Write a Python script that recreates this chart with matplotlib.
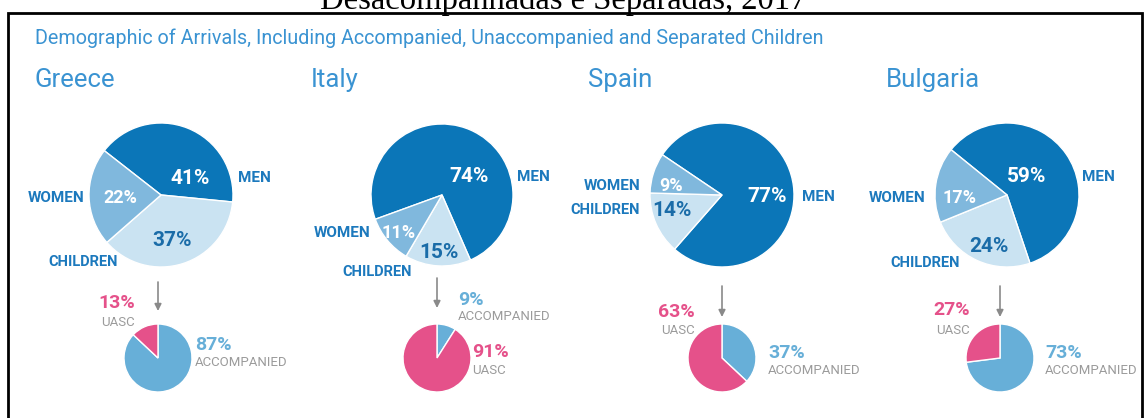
import matplotlib.pyplot as plt
from matplotlib import font_manager

# ===============================
# DATA
# ===============================
countries = ["Greece", "Italy", "Spain", "Bulgaria"]
men = [41, 74, 77, 59]
children = [37, 15, 14, 24]
women = [22, 11, 9, 17]
accompanied = [87, 9, 37, 73]
uasc = [13, 91, 63, 27]

subtitle = "Demographic of Arrivals, Including Accompanied, Unaccompanied and Separated Children"
page_title = "Desacompanhadas e Separadas, 2017"

# ===============================
# STYLE / LAYOUT (pixel coords, y from top)
# ===============================
W, H = 1148, 418
C_MEN, C_WOMEN, C_CHILD = "#0b76b8", "#80b8dd", "#cae3f2"
C_LABEL, C_CHILD_PCT = "#1c79bd", "#1a6ca8"
C_HEAD = "#3a93d2"
C_PINK, C_ACC = "#e5518a", "#67afd8"
C_GRAY = "#9b9b9b"

names = [f.name for f in font_manager.fontManager.ttflist]
NARROW = ["Liberation Sans Narrow"] if "Liberation Sans Narrow" in names else ["Roboto", "DejaVu Sans"]
HEADF = ["Roboto", "DejaVu Sans"]

country_x = [35, 311, 588, 886]
big_center = [(161, 195), (442, 195), (722, 195), (1007, 195)]
big_r = [72, 71, 72, 72]
big_start = [142, 200, 146, 141]
small_center = [(158, 358), (437, 358), (722, 358), (1000, 358)]
small_r = 34
arrow_y = [(282, 311), (278, 308), (286, 317), (286, 317)]

# label anchors: (x, y, ha)
men_pct = [(190, 178), (469, 177), (767, 197), (1027, 177)]
men_lab = [(238, 178), (517, 177), (802, 197), (1082, 177)]
wom_pct = [(120, 198), (399, 233), (671, 186), (959, 198)]
wom_lab = [(84, 198), (370, 233), (640, 186), (925, 198)]
chi_pct = [(172, 240), (439, 252), (672, 210), (989, 247)]
chi_lab = [(118, 262), (412, 272), (640, 210), (960, 263)]

uasc_pct = [(135, 303, "right"), (472, 352, "left"), (695, 312, "right"), (970, 310, "right")]
uasc_lab = [(135, 323, "right"), (472, 370, "left"), (695, 330, "right"), (970, 330, "right")]
acc_pct = [(195, 345, "left"), (458, 300, "left"), (768, 353, "left"), (1045, 353, "left")]
acc_lab = [(195, 363, "left"), (458, 317, "left"), (768, 370, "left"), (1045, 370, "left")]


def Y(y):
    return H - y


fig = plt.figure(figsize=(W / 100, H / 100), dpi=100)
ax = fig.add_axes([0, 0, 1, 1])

# frame and clipped page heading
ax.plot([8, 8, 1142, 1142], [Y(418), Y(13), Y(13), Y(418)], color="black", lw=2, solid_joinstyle="miter")
ax.text(563, Y(9), page_title, family=["Liberation Serif", "DejaVu Serif"], fontsize=23.5,
        ha="center", va="baseline", color="black")

ax.text(35, Y(38), subtitle, family=HEADF, fontsize=14.2, color=C_HEAD, va="center", ha="left")

for i, name in enumerate(countries):
    ax.text(country_x[i], Y(80), name, family=HEADF, fontsize=18.5, color=C_HEAD, va="center", ha="left")

    # big pie
    cx, cy = big_center[i]
    ax.pie([men[i], children[i], women[i]], colors=[C_MEN, C_CHILD, C_WOMEN],
           startangle=big_start[i], counterclock=False, center=(cx, Y(cy)), radius=big_r[i],
           wedgeprops=dict(edgecolor="white", linewidth=1))

    bold = dict(family=NARROW, fontweight="bold", va="center")
    ax.text(men_pct[i][0], Y(men_pct[i][1]), f"{men[i]}%", color="white", fontsize=15, ha="center", **bold)
    ax.text(men_lab[i][0], Y(men_lab[i][1]), "MEN", color=C_LABEL, fontsize=11, ha="left", **bold)
    ax.text(wom_pct[i][0], Y(wom_pct[i][1]), f"{women[i]}%", color="white", fontsize=13, ha="center", **bold)
    ax.text(wom_lab[i][0], Y(wom_lab[i][1]), "WOMEN", color=C_LABEL, fontsize=11, ha="right", **bold)
    ax.text(chi_pct[i][0], Y(chi_pct[i][1]), f"{children[i]}%", color=C_CHILD_PCT, fontsize=15, ha="center", **bold)
    ax.text(chi_lab[i][0], Y(chi_lab[i][1]), "CHILDREN", color=C_LABEL, fontsize=10.5, ha="right", **bold)

    # arrow down to the children split
    sx, sy = small_center[i]
    ax.annotate("", xy=(sx, Y(arrow_y[i][1])), xytext=(sx, Y(arrow_y[i][0])),
                arrowprops=dict(arrowstyle="-|>", color="#8a8a8a", lw=1.2, mutation_scale=10,
                                shrinkA=0, shrinkB=0))

    # small pie
    ax.pie([accompanied[i], uasc[i]], colors=[C_ACC, C_PINK], startangle=90, counterclock=False,
           center=(sx, Y(sy)), radius=small_r, wedgeprops=dict(edgecolor="white", linewidth=1))

    x, y, ha = uasc_pct[i]
    ax.text(x, Y(y), f"{uasc[i]}%", color=C_PINK, fontsize=14, ha=ha, **bold)
    x, y, ha = uasc_lab[i]
    ax.text(x, Y(y), "UASC", color=C_GRAY, fontsize=9.5, ha=ha, family=NARROW, va="center")
    x, y, ha = acc_pct[i]
    ax.text(x, Y(y), f"{accompanied[i]}%", color=C_ACC, fontsize=14, ha=ha, **bold)
    x, y, ha = acc_lab[i]
    ax.text(x, Y(y), "ACCOMPANIED", color=C_GRAY, fontsize=9.5, ha=ha, family=NARROW, va="center")

ax.set_xlim(0, W)
ax.set_ylim(0, H)
ax.set_aspect("equal")
ax.axis("off")

plt.savefig("out.png", dpi=100)
